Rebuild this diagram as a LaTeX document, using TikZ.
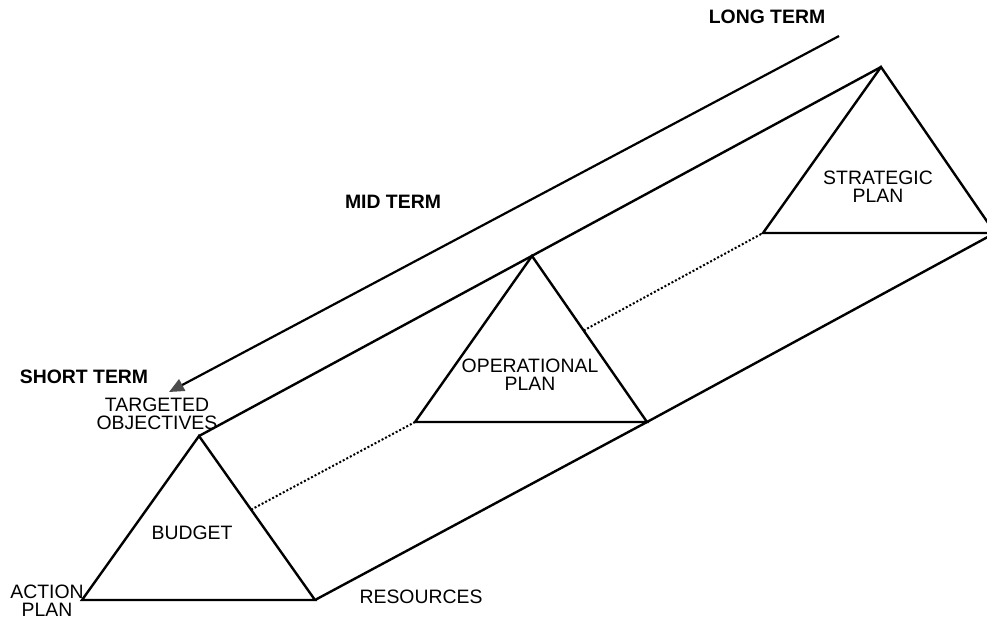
\documentclass[tikz,border=0pt]{standalone}
\usepackage{fontspec}
\setmainfont{Liberation Sans}
\usetikzlibrary{arrows.meta}
\begin{document}
\begin{tikzpicture}[x=1pt,y=-1pt,
  edge/.style={line width=2.4pt,line join=miter,line cap=butt},
  hidden/.style={line width=2pt,dotted},
  lbl/.style={font=\fontsize{19.4}{18}\selectfont,align=center,inner sep=0pt},
  blbl/.style={font=\fontsize{19.4}{18}\selectfont\bfseries,align=center,inner sep=0pt}]
\useasboundingbox (0,0) rectangle (987,619);
\clip (0,0) rectangle (987,619);
% corners
\coordinate (F1) at (199,436);
\coordinate (F2) at (82,600);
\coordinate (F3) at (315,600);
\coordinate (M1) at (532,256);
\coordinate (M2) at (415,422);
\coordinate (M3) at (647,422);
\coordinate (B1) at (881,67);
\coordinate (B2) at (763,233);
\coordinate (B3) at (995,233);
\coordinate (AS) at (839,36);
\coordinate (AE) at (169,392);
% triangles
\draw[edge] (F1) -- (F2) -- (F3) -- cycle;
\draw[edge] (M1) -- (M2) -- (M3) -- cycle;
\draw[edge] (B1) -- (B2) -- (B3) -- cycle;
% ridges
\draw[edge] (F1) -- (B1);
\draw[edge] (F3) -- (M3) -- (B3);
% hidden edge
\draw[hidden] (intersection of F1--F3 and F2--M2) -- (M2);
\draw[hidden] (intersection of M1--M3 and M2--B2) -- (B2);
% arrow
\draw[line width=2.2pt,-{Triangle[length=15pt,width=13pt,fill=black!70,color=black!70]}] (AS) -- (AE);
% labels
\node[blbl] (lt) at (767,17) {LONG TERM};
\node[blbl] (mt) at (393,202) {MID TERM};
\node[blbl] (st) at (84,377) {SHORT TERM};
\node[lbl] (to) at (157,414) {TARGETED\\OBJECTIVES};
\node[lbl] (bu) at (192,533) {BUDGET};
\node[lbl] (ap) at (47,601) {ACTION\\PLAN};
\node[lbl] (re) at (421,597) {RESOURCES};
\node[lbl] (op) at (530,375) {OPERATIONAL\\PLAN};
\node[lbl] (sp) at (878,187) {STRATEGIC\\PLAN};
\end{tikzpicture}
\end{document}
